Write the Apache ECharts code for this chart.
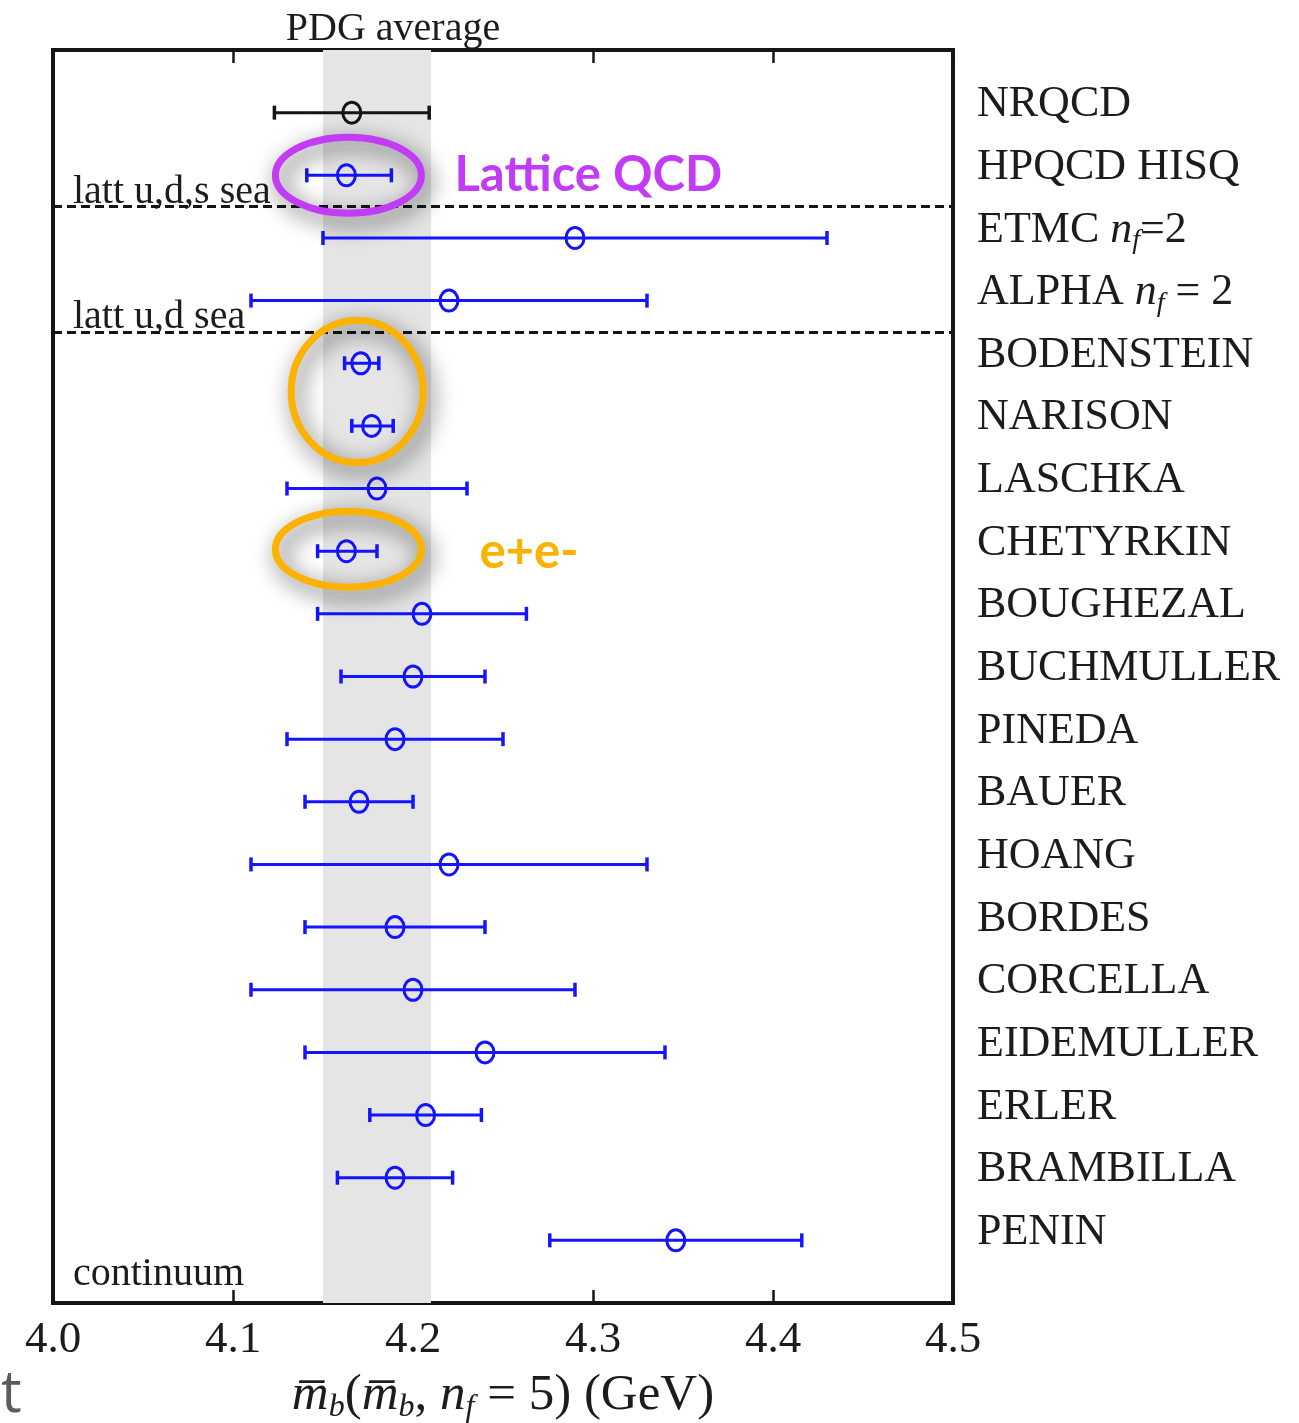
<!DOCTYPE html>
<html>
<head>
<meta charset="utf-8">
<script src="https://cdn.jsdelivr.net/npm/echarts@6/dist/echarts.min.js"></script>
<style>
  html, body { margin: 0; padding: 0; background: #ffffff; }
  #chart { width: 1299px; height: 1423px; }
</style>
</head>
<body>
<div id="chart"></div>
<script>
// b-quark MSbar mass determinations, top to bottom
const labels = [
  'NRQCD', 'HPQCD HISQ', 'ETMC {it|n}{sub|f}=2', 'ALPHA {it|n}{sub|f} {eq|= 2}', 'BODENSTEIN',
  'NARISON', 'LASCHKA', 'CHETYRKIN', 'BOUGHEZAL', 'BUCHMULLER', 'PINEDA', 'BAUER',
  'HOANG', 'BORDES', 'CORCELLA', 'EIDEMULLER', 'ERLER', 'BRAMBILLA', 'PENIN'
];
const centers = [4.166, 4.163, 4.29, 4.22, 4.171, 4.177, 4.18, 4.163, 4.205, 4.20,
                 4.19, 4.17, 4.22, 4.19, 4.20, 4.24, 4.207, 4.19, 4.346];
const lows    = [4.123, 4.141, 4.15, 4.11, 4.162, 4.166, 4.13, 4.147, 4.147, 4.16,
                 4.13, 4.14, 4.11, 4.14, 4.11, 4.14, 4.176, 4.158, 4.276];
const highs   = [4.209, 4.188, 4.43, 4.33, 4.181, 4.189, 4.23, 4.180, 4.263, 4.24,
                 4.25, 4.20, 4.33, 4.24, 4.29, 4.34, 4.238, 4.222, 4.416];

// PDG average band
const pdgRange = [4.15, 4.21];
// x axis ticks
const xTicks = { min: 4.0, max: 4.5, step: 0.1 };
// section separators (between rows)
const dividers = [
  { at: 2.5, name: 'latt u,d,s sea' },
  { at: 4.5, name: 'latt u,d sea' }
];
const bottomSection = 'continuum';
// highlighted groups of rows (0-based), with their captions
const highlights = [
  { rows: [1], caption: 'Lattice QCD' },
  { rows: [4, 5], caption: '' },
  { rows: [7], caption: 'e+e-' }
];

const SERIF = '"Liberation Serif", "Times New Roman", serif';
const TEXT = '#1c1c1c';
const BLUE = '#1414ff';

const rows = centers.map((c, i) => [i + 1, c, lows[i], highs[i]]);

const chart = echarts.init(document.getElementById('chart'));

const tickStyle = { show: true, inside: true, length: 13, lineStyle: { color: '#161616', width: 2.5 } };

const option = {
  backgroundColor: '#ffffff',
  animation: false,
  grid: {
    left: 53, right: 346, top: 50, bottom: 120,
    containLabel: false, outerBoundsMode: 'none',
    show: true, borderColor: '#161616', borderWidth: 4, backgroundColor: 'transparent'
  },
  xAxis: [
    {
      type: 'value', position: 'bottom',
      min: xTicks.min, max: xTicks.max, interval: xTicks.step,
      axisLine: { show: false, onZero: false },
      axisTick: tickStyle,
      splitLine: { show: false },
      axisLabel: {
        margin: 15, fontFamily: SERIF, fontSize: 45, color: TEXT,
        formatter: v => v.toFixed(1)
      },
      name: '{it|m\u0305}{sub|b}{n|(}{it|m\u0305}{sub|b}{n|, }{it|n}{sub|f}{n| = 5) (GeV)}',
      nameLocation: 'middle',
      nameGap: 62,
      nameTextStyle: {
        fontFamily: SERIF, fontSize: 51, color: TEXT, lineHeight: 56,
        rich: {
          n: { fontFamily: SERIF, fontSize: 51, color: TEXT, lineHeight: 56 },
          it: { fontFamily: SERIF, fontStyle: 'italic', fontSize: 51, color: TEXT, lineHeight: 56 },
          sub: { fontFamily: SERIF, fontStyle: 'italic', fontSize: 32, color: TEXT, lineHeight: 32, verticalAlign: 'bottom' }
        }
      }
    },
    {
      type: 'value', position: 'top',
      min: xTicks.min, max: xTicks.max, interval: xTicks.step,
      axisLine: { show: false, onZero: false },
      axisTick: tickStyle,
      splitLine: { show: false },
      axisLabel: { show: false }
    }
  ],
  yAxis: {
    type: 'value', position: 'right', inverse: true,
    min: 0, max: labels.length + 1, interval: 1,
    axisLine: { show: false, onZero: false },
    axisTick: { show: false },
    splitLine: { show: false },
    axisLabel: {
      margin: 24, fontFamily: SERIF, fontSize: 44, color: TEXT, lineHeight: 50,
      padding: [0, 0, 16, 0],
      formatter: v => {
        const k = Math.round(v);
        if (Math.abs(v - k) > 1e-6 || k < 1 || k > labels.length) return '';
        return labels[k - 1];
      },
      rich: {
        it: { fontFamily: SERIF, fontStyle: 'italic', fontSize: 44, color: TEXT, lineHeight: 50 },
        sub: { fontFamily: SERIF, fontStyle: 'italic', fontSize: 28, color: TEXT, lineHeight: 28, verticalAlign: 'bottom' },
        eq: { fontFamily: SERIF, fontSize: 44, color: TEXT, lineHeight: 50 }
      }
    }
  },
  series: [
    {
      // PDG band and section separators
      type: 'scatter', data: [], z: 1, silent: true,
      markArea: {
        silent: true,
        itemStyle: { color: '#e5e5e5' },
        label: {
          show: true, position: 'top', distance: 1, offset: [16, 0],
          fontFamily: SERIF, fontSize: 40, color: TEXT
        },
        data: [[{ xAxis: pdgRange[0], name: 'PDG average' }, { xAxis: pdgRange[1] }]]
      },
      markLine: {
        silent: true,
        symbol: ['none', 'none'],
        lineStyle: { color: '#151515', width: 3.2, type: [9, 5] },
        label: {
          show: true, position: 'insideStartTop', formatter: '{b}',
          distance: [20, -6],
          fontFamily: SERIF, fontSize: 40, color: TEXT
        },
        data: dividers.map(d => ({ yAxis: d.at, name: d.name }))
      }
    },
    {
      type: 'custom',
      z: 5,
      data: rows,
      encode: { x: [1, 2, 3], y: 0 },
      renderItem: (params, api) => {
        const idx = params.dataIndex;
        const y = api.value(0);
        const c = api.coord([api.value(1), y]);
        const lo = api.coord([api.value(2), y]);
        const hi = api.coord([api.value(3), y]);
        const color = idx === 0 ? '#151515' : BLUE;
        const capH = 7;
        const ls = { stroke: color, lineWidth: 3, fill: null };
        return {
          type: 'group',
          children: [
            { type: 'line', shape: { x1: lo[0], y1: lo[1], x2: hi[0], y2: hi[1] }, style: ls },
            { type: 'line', shape: { x1: lo[0], y1: lo[1] - capH, x2: lo[0], y2: lo[1] + capH }, style: { stroke: color, lineWidth: 3.5 } },
            { type: 'line', shape: { x1: hi[0], y1: hi[1] - capH, x2: hi[0], y2: hi[1] + capH }, style: { stroke: color, lineWidth: 3.5 } },
            { type: 'ellipse', shape: { cx: c[0], cy: c[1], rx: 9, ry: 10.5 }, style: { stroke: color, lineWidth: 3, fill: 'transparent' } }
          ]
        };
      }
    }
  ]
};

chart.setOption(option);

// Annotations placed from the data coordinates of the rows they surround
const toPx = (x, y) => chart.convertToPixel({ xAxisIndex: 0, yAxisIndex: 0 }, [x, y]);
const ringStyles = [
  { stroke: '#c23cf5', rx: 73, ry: 38, dx: 2, dy: 0, capDx: 106, capDy: 0 },
  { stroke: '#fbb200', rx: 66, ry: 71, dx: -9, dy: -3, capDx: 0, capDy: 0 },
  { stroke: '#fbb200', rx: 73, ry: 38, dx: 2, dy: -2, capDx: 131, capDy: 3 }
];
const graphics = [];
highlights.forEach((h, k) => {
  const s = ringStyles[k];
  const xs = h.rows.map(r => centers[r]);
  const ys = h.rows.map(r => r + 1);
  const mx = xs.reduce((a, b) => a + b, 0) / xs.length;
  const my = ys.reduce((a, b) => a + b, 0) / ys.length;
  const p = toPx(mx, my);
  const cx = p[0] + s.dx, cy = p[1] + s.dy;
  graphics.push({
    type: 'ellipse', z: 20, silent: true,
    shape: { cx, cy, rx: s.rx, ry: s.ry },
    style: {
      fill: 'transparent', stroke: s.stroke, lineWidth: 7,
      shadowBlur: 22, shadowColor: 'rgba(0,0,0,0.75)', shadowOffsetX: 5, shadowOffsetY: 7
    }
  });
  if (h.caption) {
    graphics.push({
      type: 'text', z: 20, silent: true,
      x: cx + s.capDx, y: cy + s.capDy,
      style: {
        text: h.caption, fill: s.stroke,
        font: '700 49px Lato, "Open Sans", sans-serif',
        align: 'left', verticalAlign: 'middle'
      }
    });
  }
});
const corner = toPx(xTicks.min, labels.length + 1);
graphics.push({
  type: 'text', silent: true,
  x: corner[0] + 20, y: corner[1] - 9,
  style: { text: bottomSection, fill: TEXT, font: '40px ' + SERIF, align: 'left', verticalAlign: 'bottom' }
});
graphics.push({
  type: 'text', silent: true,
  x: 1, y: 1395,
  style: { text: 't', fill: '#5c5c5c', font: '58px "Open Sans", sans-serif', align: 'left', verticalAlign: 'middle' }
});
chart.setOption({ graphic: graphics });
</script>
</body>
</html>
